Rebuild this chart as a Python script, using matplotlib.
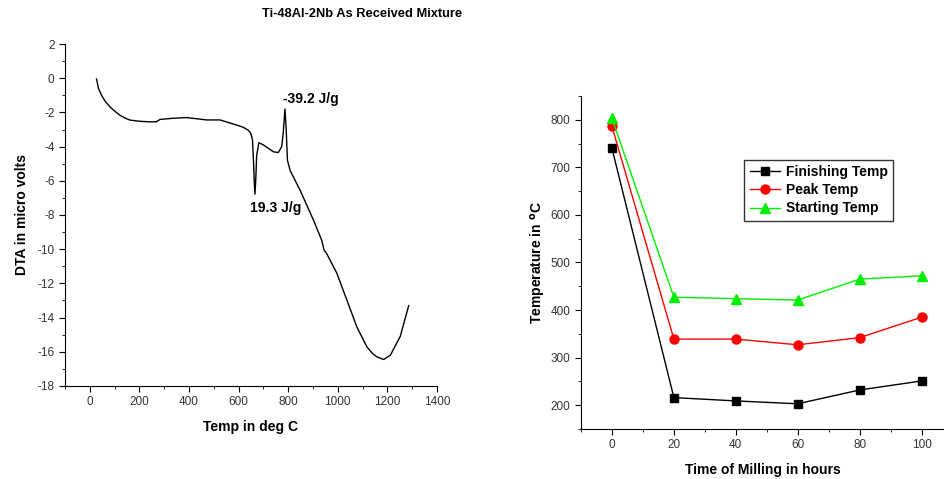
import matplotlib
matplotlib.use("Agg")
import matplotlib.pyplot as plt
from matplotlib.ticker import MultipleLocator

plt.rcParams['font.family'] = ['Liberation Sans', 'DejaVu Sans']
plt.rcParams['axes.unicode_minus'] = False

# DTA curve
dta_temp = [27, 35, 47, 62, 81, 101, 121, 140, 162, 202, 240, 269, 283, 330, 390, 471, 525,
            579, 619, 640, 649, 656, 660, 663, 666, 669, 673, 682, 700, 740, 760, 774, 780,
            787, 792, 797, 808, 848, 902, 935, 945, 955, 996, 1037, 1077, 1117, 1140, 1158,
            1185, 1212, 1252, 1286]
dta_val = [-0.05, -0.6, -0.99, -1.35, -1.67, -1.93, -2.16, -2.32, -2.45, -2.52, -2.55, -2.55,
           -2.41, -2.35, -2.3, -2.44, -2.44, -2.68, -2.87, -3.05, -3.22, -3.6, -4.8, -6.0,
           -6.78, -6.0, -4.5, -3.77, -3.9, -4.3, -4.35, -4.0, -3.2, -1.8, -3.0, -4.8, -5.4,
           -6.55, -8.3, -9.47, -10.06, -10.25, -11.4, -12.99, -14.55, -15.7, -16.1, -16.3,
           -16.45, -16.2, -15.1, -13.3]

# Milling data
hours = [0, 20, 40, 60, 80, 100]
finishing = [740, 216, 209, 203, 232, 251]
peak = [786, 339, 339, 327, 342, 385]
starting = [803, 427, 424, 421, 465, 472]

fig = plt.figure(figsize=(9.45, 4.79), dpi=100)

ax1 = fig.add_axes([0.0688, 0.1942, 0.3936, 0.7139])
ax1.plot(dta_temp, dta_val, color='black', lw=1)
ax1.set_xlim(-100, 1400)
ax1.set_ylim(-18, 2)
ax1.xaxis.set_major_locator(MultipleLocator(200))
ax1.xaxis.set_minor_locator(MultipleLocator(100))
ax1.yaxis.set_major_locator(MultipleLocator(2))
ax1.yaxis.set_minor_locator(MultipleLocator(1))
ax1.text(779, -1.22, '-39.2 J/g', fontsize=10, fontweight='bold', va='center')
ax1.text(646, -7.6, '19.3 J/g', fontsize=10, fontweight='bold', va='center')
ax1.set_xlabel('Temp in deg C', fontsize=10, fontweight='bold', labelpad=8)
ax1.set_ylabel('DTA in micro volts', fontsize=10, fontweight='bold', labelpad=6)
fig.text(0.383, 0.97, 'Ti-48Al-2Nb As Received Mixture', fontsize=9.3, fontweight='bold',
         ha='center', va='center')

ax2 = fig.add_axes([0.6148, 0.1044, 0.385, 0.6952])
ax2.plot(hours, finishing, color='black', marker='s', ms=6, lw=1, label='Finishing Temp')
ax2.plot(hours, peak, color='red', marker='o', ms=6.5, lw=1, label='Peak Temp')
ax2.plot(hours, starting, color='#00ee00', marker='^', ms=7, lw=1, label='Starting Temp')
ax2.set_xlim(-10, 107.5)
ax2.set_ylim(150, 850)
ax2.xaxis.set_major_locator(MultipleLocator(20))
ax2.xaxis.set_minor_locator(MultipleLocator(10))
ax2.yaxis.set_major_locator(MultipleLocator(100))
ax2.yaxis.set_minor_locator(MultipleLocator(50))
ax2.set_xlabel('Time of Milling in hours', fontsize=10, fontweight='bold', labelpad=8)
ax2.set_ylabel('Temperature in $^{\\mathbf{o}}$C', fontsize=10, fontweight='bold', labelpad=2)
leg = ax2.legend(loc='upper left', bbox_to_anchor=(0.43, 0.83), frameon=True, fancybox=False,
                 edgecolor='black', prop={'weight': 'bold', 'size': 10}, handlelength=2.2,
                 borderpad=0.4, labelspacing=0.3, handletextpad=0.4)
leg.get_frame().set_linewidth(1)

for ax in (ax1, ax2):
    for s in ('top', 'right'):
        ax.spines[s].set_visible(False)
    ax.tick_params(which='both', direction='out', labelsize=8.5, colors='black')
    ax.tick_params(which='major', length=4)
    ax.tick_params(which='minor', length=2.5)
    for lbl in ax.get_xticklabels() + ax.get_yticklabels():
        lbl.set_color('#333333')

fig.savefig('out.png', dpi=100)
